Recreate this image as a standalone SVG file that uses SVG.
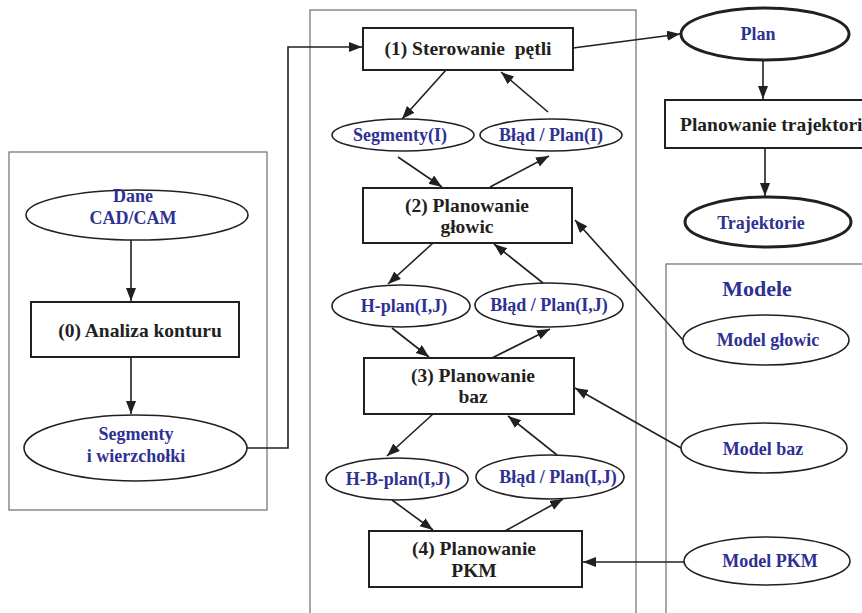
<svg xmlns="http://www.w3.org/2000/svg" width="862" height="613" viewBox="0 0 862 613">
<style>
.cont{fill:none;stroke:#6d6e71;stroke-width:1.2}
.box{fill:#fff;stroke:#231f20;stroke-width:2}
.ell{fill:#fff;stroke:#231f20;stroke-width:1.6}
.ellb{fill:#fff;stroke:#231f20;stroke-width:3}
.tk{font-family:"Liberation Serif","Times New Roman",serif;font-weight:bold;font-size:19.5px;fill:#231f20;text-anchor:middle}
.tb{font-family:"Liberation Serif","Times New Roman",serif;font-weight:bold;font-size:18px;fill:#2e3192;text-anchor:middle}
.con{fill:none;stroke:#231f20;stroke-width:1.6}
</style>
<defs>
<marker id="ah" markerUnits="userSpaceOnUse" markerWidth="14" markerHeight="12" refX="13" refY="5" orient="auto">
<path d="M0,0 L13,5 L0,10 Z" fill="#231f20"/>
</marker>
</defs>
<rect width="862" height="613" fill="#fff"/>
<g id="containers">
<rect class="cont" x="9" y="152" width="258" height="358"/>
<rect class="cont" x="310" y="10" width="326" height="610"/>
<rect class="cont" x="666" y="264" width="210" height="360"/>
</g>
<g id="connectors">
<line class="con" x1="131" y1="240" x2="131" y2="301" marker-end="url(#ah)"/>
<line class="con" x1="131" y1="357" x2="131" y2="414" marker-end="url(#ah)"/>
<path class="con" d="M247,448 H288 V47 H362" marker-end="url(#ah)"/>
<line class="con" x1="446" y1="70" x2="402" y2="119" marker-end="url(#ah)"/>
<line class="con" x1="548" y1="112" x2="501" y2="72" marker-end="url(#ah)"/>
<line class="con" x1="398" y1="157" x2="442" y2="187" marker-end="url(#ah)"/>
<line class="con" x1="490" y1="187" x2="549" y2="156" marker-end="url(#ah)"/>
<line class="con" x1="433" y1="243" x2="388" y2="284" marker-end="url(#ah)"/>
<line class="con" x1="543" y1="283" x2="494" y2="244" marker-end="url(#ah)"/>
<line class="con" x1="392" y1="328" x2="429" y2="357" marker-end="url(#ah)"/>
<line class="con" x1="492" y1="358" x2="550" y2="329" marker-end="url(#ah)"/>
<line class="con" x1="433" y1="414" x2="387" y2="456" marker-end="url(#ah)"/>
<line class="con" x1="557" y1="455" x2="508" y2="416" marker-end="url(#ah)"/>
<line class="con" x1="392" y1="500" x2="433" y2="530" marker-end="url(#ah)"/>
<line class="con" x1="505" y1="531" x2="563" y2="499" marker-end="url(#ah)"/>
<line class="con" x1="573" y1="48" x2="680" y2="34" marker-end="url(#ah)"/>
<line class="con" x1="763" y1="60" x2="763" y2="99" marker-end="url(#ah)"/>
<line class="con" x1="765" y1="148" x2="765" y2="196" marker-end="url(#ah)"/>
<line class="con" x1="683" y1="340" x2="575" y2="220" marker-end="url(#ah)"/>
<line class="con" x1="681" y1="448" x2="575" y2="388" marker-end="url(#ah)"/>
<line class="con" x1="684" y1="562" x2="583" y2="562" marker-end="url(#ah)"/>
</g>
<g id="dane">
<ellipse class="ell" cx="137" cy="215" rx="111" ry="25"/>
<text class="tb" x="133" y="202">Dane</text>
<text class="tb" x="133" y="224">CAD/CAM</text>
</g>
<g id="analiza">
<rect class="box" x="31" y="302" width="208" height="55"/>
<text class="tk" x="140" y="337">(0) Analiza konturu</text>
</g>
<g id="segmenty">
<ellipse class="ell" cx="135.5" cy="448" rx="111.5" ry="33"/>
<text class="tb" x="136" y="440">Segmenty</text>
<text class="tb" x="136" y="462">i wierzchołki</text>
</g>
<g id="n1">
<rect class="box" x="363" y="28" width="210" height="42"/>
<text class="tk" x="468" y="55" xml:space="preserve">(1) Sterowanie  pętli</text>
</g>
<g id="segI">
<ellipse class="ell" cx="403" cy="135" rx="71" ry="16"/>
<text class="tb" x="400" y="141">Segmenty(I)</text>
</g>
<g id="bladI">
<ellipse class="ell" cx="551" cy="135" rx="71" ry="16"/>
<text class="tb" x="551" y="141">Błąd / Plan(I)</text>
</g>
<g id="n2">
<rect class="box" x="363" y="188" width="209" height="55"/>
<text class="tk" x="467" y="212">(2) Planowanie</text>
<text class="tk" x="467" y="233">głowic</text>
</g>
<g id="hplan">
<ellipse class="ell" cx="401" cy="306" rx="69" ry="21"/>
<text class="tb" x="404" y="312">H-plan(I,J)</text>
</g>
<g id="bladIJ1">
<ellipse class="ell" cx="549" cy="305" rx="74" ry="22"/>
<text class="tb" x="549" y="311">Błąd / Plan(I,J)</text>
</g>
<g id="n3">
<rect class="box" x="364" y="358" width="210" height="56"/>
<text class="tk" x="473" y="382">(3) Planowanie</text>
<text class="tk" x="473" y="403">baz</text>
</g>
<g id="hbplan">
<ellipse class="ell" cx="397" cy="479" rx="71" ry="21"/>
<text class="tb" x="398" y="485">H-B-plan(I,J)</text>
</g>
<g id="bladIJ2">
<ellipse class="ell" cx="550" cy="477" rx="74" ry="22"/>
<text class="tb" x="558" y="483">Błąd / Plan(I,J)</text>
</g>
<g id="n4">
<rect class="box" x="369" y="531" width="213" height="56"/>
<text class="tk" x="474" y="555">(4) Planowanie</text>
<text class="tk" x="474" y="577">PKM</text>
</g>
<g id="plan">
<ellipse class="ellb" cx="765" cy="34" rx="84" ry="26"/>
<text class="tb" x="758" y="40">Plan</text>
</g>
<g id="plantraj">
<rect class="box" x="665" y="100" width="210" height="48"/>
<text class="tk" x="680" y="131" style="text-anchor:start">Planowanie trajektori</text>
</g>
<g id="trajektorie">
<ellipse class="ellb" cx="768" cy="222" rx="83" ry="25"/>
<text class="tb" x="761" y="229">Trajektorie</text>
</g>
<g id="modele">
<text class="tb" x="757" y="296" style="font-size:22px">Modele</text>
</g>
<g id="mglowic">
<ellipse class="ell" cx="766" cy="340" rx="83" ry="25"/>
<text class="tb" x="768" y="346">Model głowic</text>
</g>
<g id="mbaz">
<ellipse class="ell" cx="764" cy="448" rx="83" ry="25"/>
<text class="tb" x="763" y="455">Model baz</text>
</g>
<g id="mpkm">
<ellipse class="ell" cx="767" cy="561" rx="83" ry="24"/>
<text class="tb" x="770" y="567">Model PKM</text>
</g>
</svg>
